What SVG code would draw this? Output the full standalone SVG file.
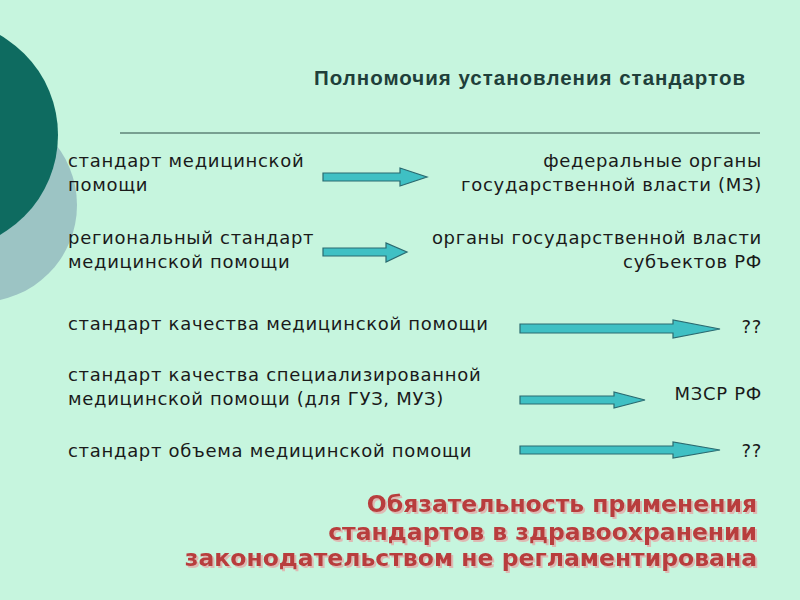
<svg xmlns="http://www.w3.org/2000/svg" width="800" height="600" viewBox="0 0 800 600">
<defs>
<filter id="sh" x="-5%" y="-20%" width="110%" height="150%"><feDropShadow dx="2" dy="2" stdDeviation="0.5" flood-color="#e8a0a0" flood-opacity="0.7"/></filter>
</defs>
<style>
.t{font-family:"DejaVu Sans",sans-serif;font-size:18px;letter-spacing:0.7px;fill:#1a1a1a}
.r{text-anchor:end}
.a{fill:#3fc0c4;stroke:#2a6a70;stroke-width:1.2}
.red{font-family:"DejaVu Sans",sans-serif;font-size:23.5px;font-weight:bold;fill:#b83c3c;text-anchor:end;filter:url(#sh)}
</style>
<rect width="800" height="600" fill="#c6f5de"/>
<circle cx="-20" cy="205" r="97" fill="#9cc4c4"/>
<circle cx="-57" cy="135" r="115" fill="#0e6b60"/>
<text x="530" y="85" text-anchor="middle" font-family="Liberation Sans,sans-serif" font-size="20.5" letter-spacing="1" font-weight="bold" fill="#1f3f3a">Полномочия установления стандартов</text>
<line x1="120" y1="133" x2="760" y2="133" stroke="#2a4a44" stroke-width="1"/>
<g id="left">
<text class="t" x="68" y="167">стандарт медицинской</text>
<text class="t" x="68" y="191">помощи</text>
<text class="t" x="68" y="244">региональный стандарт</text>
<text class="t" x="68" y="268">медицинской помощи</text>
<text class="t" x="68" y="330">стандарт качества медицинской помощи</text>
<text class="t" x="68" y="381">стандарт качества специализированной</text>
<text class="t" x="68" y="405">медицинской помощи (для ГУЗ, МУЗ)</text>
<text class="t" x="68" y="457" letter-spacing="-0.3">стандарт объема медицинской помощи</text>
</g>
<g id="right">
<text class="t r" x="762" y="167">федеральные органы</text>
<text class="t r" x="762" y="191">государственной власти (МЗ)</text>
<text class="t r" x="762" y="244">органы государственной власти</text>
<text class="t r" x="762" y="268">субъектов РФ</text>
<text class="t r" x="762" y="333">??</text>
<text class="t r" x="762" y="400">МЗСР РФ</text>
<text class="t r" x="762" y="457">??</text>
</g>
<g id="connectors">
<polygon class="a" points="323,173 400,173 400,168 427,177 400,186 400,181 323,181"/>
<polygon class="a" points="323,248 386,248 386,243 407,252 386,262 386,256 323,256"/>
<polygon class="a" points="520,324 673,324 673,320 720,329 673,338 673,333 520,333"/>
<polygon class="a" points="520,396 614,396 614,392 645,400 614,408 614,404 520,404"/>
<polygon class="a" points="520,446 673,446 673,442 720,450 673,458 673,454 520,454"/>
</g>
<g id="note">
<text class="red" x="757" y="512">Обязательность применения</text>
<text class="red" x="757" y="540">стандартов в здравоохранении</text>
<text class="red" x="757" y="566">законодательством не регламентирована</text>
</g>
</svg>
